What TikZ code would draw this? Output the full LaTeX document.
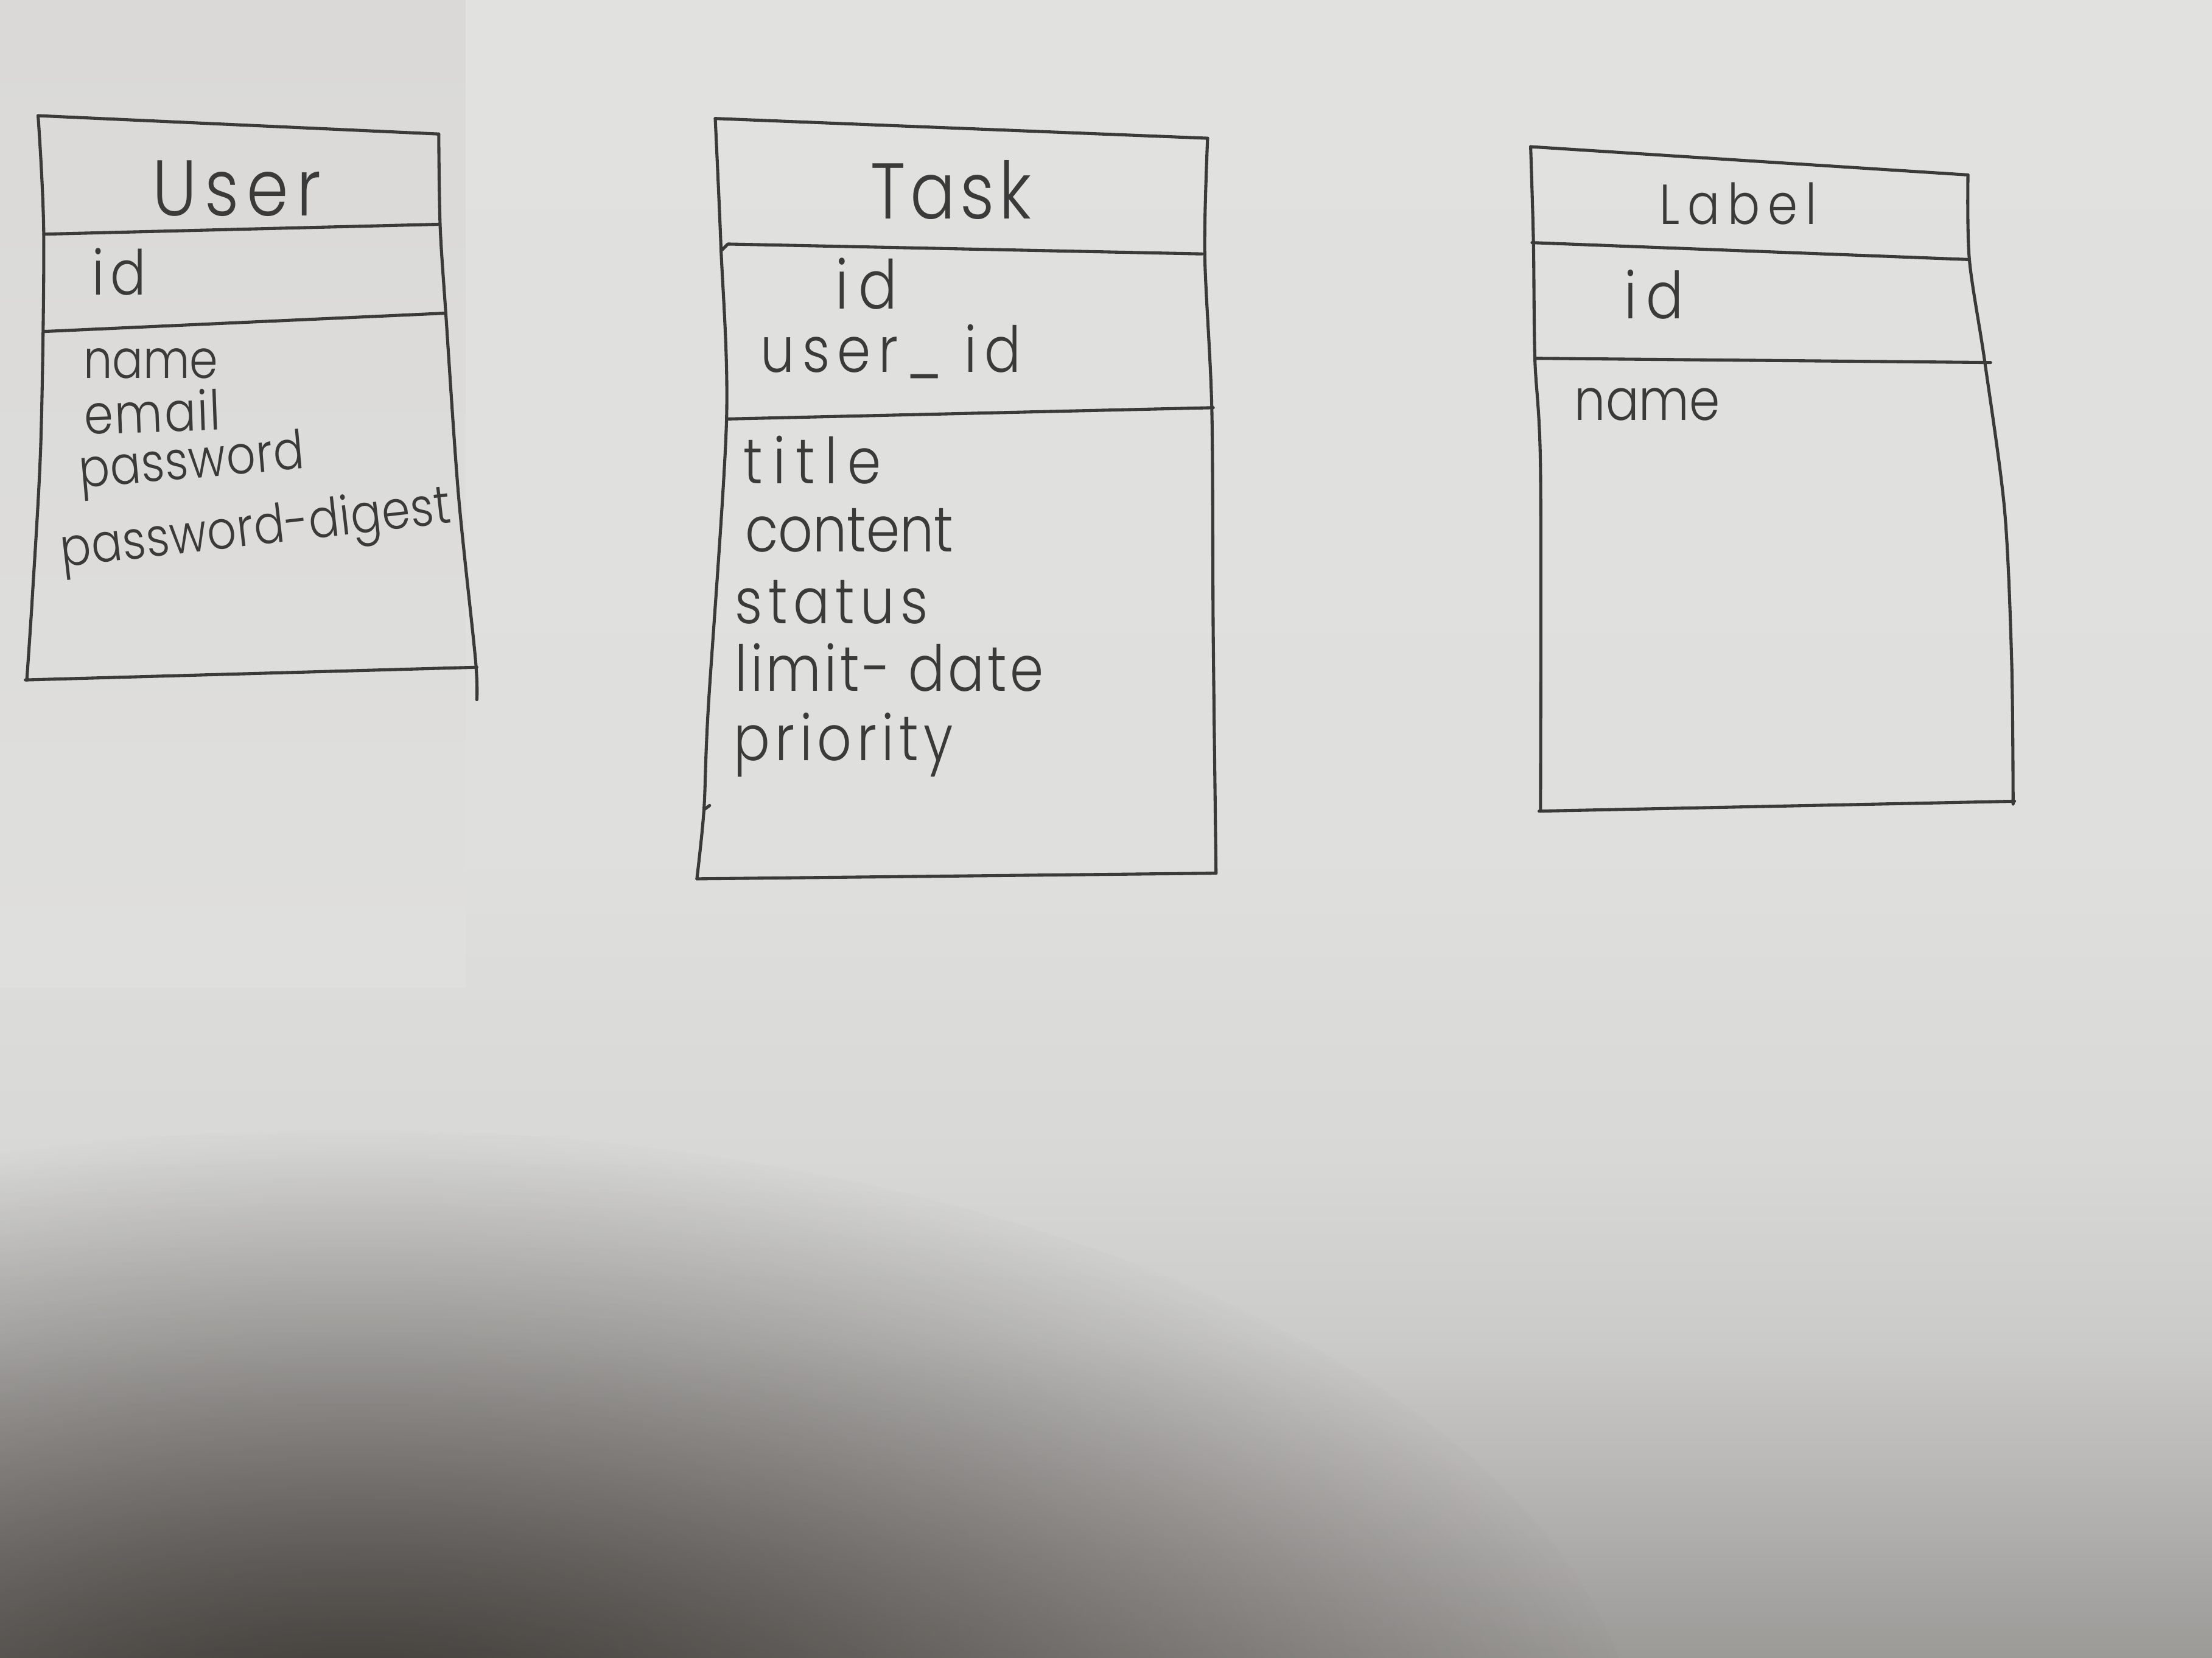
\documentclass[tikz,border=0pt]{standalone}
\usepackage{fontspec}
\newfontfamily\hand{Poppins Light}[FakeStretch=0.85]
\usetikzlibrary{fadings}

\definecolor{ink}{HTML}{3A3A3A}
\definecolor{papertop}{HTML}{E1E1DF}
\definecolor{paperA}{HTML}{DFDFDD}
\definecolor{paperB}{HTML}{D8D8D6}
\definecolor{paperC}{HTML}{CBCBC9}
\definecolor{paperD}{HTML}{B6B4B2}
\definecolor{paperbot}{HTML}{9C9A97}
\definecolor{shadow}{HTML}{2B2622}
\definecolor{band}{HTML}{DAD9D7}

% sheet of paper, lighter at the top and greying towards the lower edge
\pgfdeclareverticalshading{paper}{100bp}{%
  color(0bp)=(paperbot); color(25bp)=(paperbot); color(29.9bp)=(paperD);
  color(34.6bp)=(paperC); color(40.1bp)=(paperB); color(49.5bp)=(paperA);
  color(75bp)=(papertop); color(100bp)=(papertop)}
\tikzfading[name=softedge, inner color=transparent!0, outer color=transparent!100]

\tikzset{
  pen/.style={draw=ink, line width=2.2pt, line cap=round, line join=round},
  hw/.style={text=ink, inner sep=0pt, anchor=base west},
  txt/.style 2 args={font=\hand\fontsize{#1}{#1}\selectfont\addfontfeatures{LetterSpace=#2}},
}

\begin{document}
\begin{tikzpicture}[x=1pt,y=-1pt]
\useasboundingbox (0,0) rectangle (1568,1175);
% the sheet, its slightly darker left strip and the shadow over its lower left
\shade[shading=paper] (0,0) rectangle (1568,1175);
\shade[top color=band, bottom color=paperA] (0,0) rectangle (330,700);
\fill[shadow, opacity=0.9, path fading=softedge] (250,1260) ellipse [x radius=920, y radius=460];

% ---- User table ----
\draw[pen] (27,82) -- (311,95);
\draw[pen] plot[smooth] coordinates {(27,82) (31,166) (29,312) (23,422) (19,482)};
\draw[pen] plot[smooth] coordinates {(311,95) (312,160) (316,222) (325,351) (337,467) (338,496)};
\draw[pen] (31,166) -- (311,159);
\draw[pen] (31,235) -- (316,222);
\draw[pen] (18,482) -- (338,473);
\node[hw,txt={56}{10}] (userT)  at (108,153) {User};
\node[hw,txt={44}{10}] (userid) at (65,209) {id};
\node[hw,txt={38}{0}]  (uname)  at (59,268) {name};
\node[hw,txt={39}{3},rotate=2]   (uemail) at (60,308) {email};
\node[hw,txt={38}{1},rotate=5]   (upass)  at (57,346) {password};
\node[hw,txt={38}{1},rotate=6.5] (udig)   at (44,402) {password-digest};

% ---- Task table ----
\draw[pen] (507,84) -- (856,98);
\draw[pen] plot[smooth] coordinates {(507,84) (511,174) (515,298) (502,503) (499,574) (494,623)};
\draw[pen] (499,574) -- (503,571);
\draw[pen] plot[smooth] coordinates {(856,98) (854,180) (859,290) (860,450) (862,619)};
\draw[pen] (512,177) -- (516,173) -- (852,180);
\draw[pen] (516,297) -- (860,289);
\draw[pen] (494,623) -- (862,619);
\node[hw,txt={56}{6}]  (taskT)  at (617,155) {Task};
\node[hw,txt={48}{15}] (tid)    at (592,219) {id};
\node[hw,txt={45}{12}] (tuid)   at (539,264) {user\_ id};
\node[hw,txt={45}{16}] (ttitle) at (527,343) {title};
\node[hw,txt={45}{0}]  (tcont)  at (528,391) {content};
\node[hw,txt={45}{9}]  (tstat)  at (521,442) {status};
\node[hw,txt={45}{5}]  (tlim)   at (521,490) {limit- date};
\node[hw,txt={45}{8}]  (tprio)  at (520,539) {priority};

% ---- Label table ----
\draw[pen] (1085,104) -- (1395,124);
\draw[pen] plot[smooth] coordinates {(1085,104) (1087,172) (1088,254) (1092,333) (1092,575)};
\draw[pen] plot[smooth] coordinates {(1395,124) (1396,184) (1407,257) (1421,362) (1426,470) (1427,570)};
\draw[pen] (1086,172) -- (1396,184);
\draw[pen] (1088,254) -- (1411,257);
\draw[pen] (1091,575) -- (1428,568);
\node[hw,txt={40}{14}] (labT)  at (1176,159) {Label};
\node[hw,txt={46}{15}] (lid)   at (1151,226) {id};
\node[hw,txt={41}{0}]  (lname) at (1116,298) {name};
\end{tikzpicture}
\end{document}
